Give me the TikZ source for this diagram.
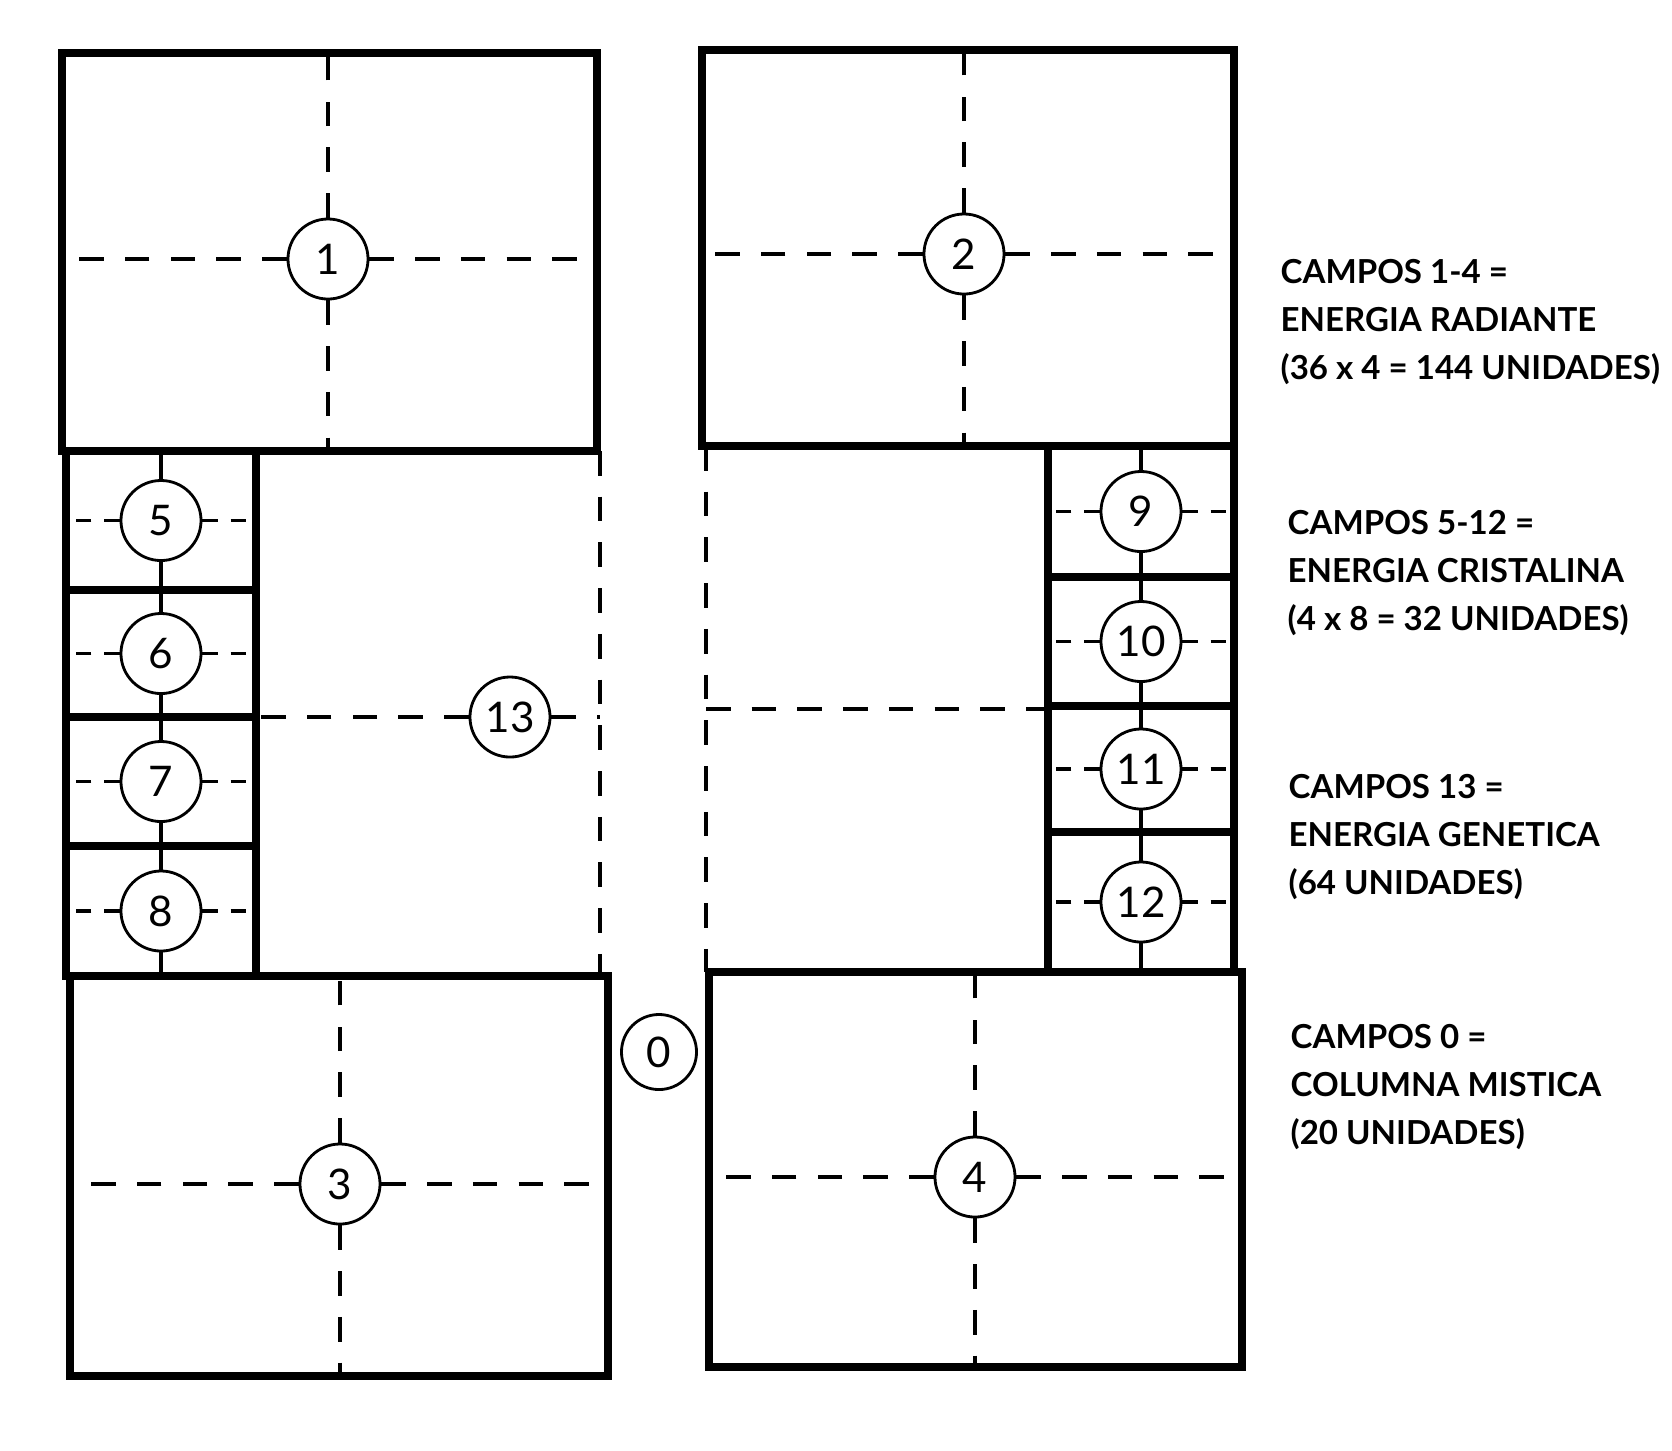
\documentclass[tikz,border=0pt]{standalone}
\usepackage{fontspec}
\setmainfont{Lato}
\usepackage{tikz}
\tikzset{
  wall/.style={draw=black, line width=2.4pt},
  axis/.style={draw=black, line width=0.9pt, dash pattern=on 7pt off 6pt},
  shortaxis/.style={axis, dash pattern=on 4.5pt off 3.5pt},
  field/.style={circle, draw=black, fill=white, line width=0.8pt, minimum size=0.8cm,
                inner sep=0pt, font=\fontsize{12}{12}\selectfont},
  legend/.style={anchor=west, align=left, inner sep=0pt, font=\fontsize{9.4}{13.6}\selectfont\bfseries},
}

\begin{document}
\begin{tikzpicture}[x=0.01cm, y=-0.01cm]
\useasboundingbox (0,0) rectangle (1672,1450);
% the four big fields
\coordinate (b1-nw) at (62,53);   \coordinate (b1-se) at (597,451);
\coordinate (b2-nw) at (702,50);  \coordinate (b2-se) at (1234,446);
\coordinate (b3-nw) at (70,976);  \coordinate (b3-se) at (608,1376);
\coordinate (b4-nw) at (709,972); \coordinate (b4-se) at (1242,1367);
\node[field] (n1) at (328,259) {1};
\node[field] (n2) at (964,254) {2};
\node[field] (n3) at (340,1184) {3};
\node[field] (n4) at (975,1177) {4};
\foreach \b in {1,...,4} {
  \draw[wall] (b\b-nw) rectangle (b\b-se);
  \draw[axis] (n\b.west) -- (n\b -| b\b-nw) (n\b.east) -- (n\b -| b\b-se)
              (n\b.north) -- (n\b |- b\b-nw) (n\b.south) -- (n\b |- b\b-se);
}
% small fields 5-8 and 9-12
\foreach \i/\xa/\xb/\ya/\yb in {5/66/256/451/590, 6/66/256/590/717, 7/66/256/717/846, 8/66/256/846/976,
    9/1048/1234/446/577, 10/1048/1234/577/706, 11/1048/1234/706/832, 12/1048/1234/832/972} {
  \coordinate (b\i-nw) at (\xa,\ya); \coordinate (b\i-se) at (\xb,\yb);
  \draw[wall] (b\i-nw) rectangle (b\i-se);
  \node[field] (n\i) at ({(\xa+\xb)/2},{(\ya+\yb)/2}) {\i};
  \draw[shortaxis] (n\i.west) -- (n\i -| b\i-nw) (n\i.east) -- (n\i -| b\i-se);
  \draw[axis] (n\i.north) -- (n\i |- b\i-nw) (n\i.south) -- (n\i |- b\i-se);
}
% field 13, left and right halves
\coordinate (b13-nw) at (256,451);   \coordinate (b13-se) at (600,976);
\coordinate (b13r-nw) at (706,446);  \coordinate (b13r-se) at (1048,972);
\coordinate (b13r-mid) at (706,709);
\node[field] (n13) at (510,717) {13};
\draw[axis] (b13-se |- b13-nw) -- (b13-se);
\draw[axis] (n13.west) -- (n13 -| b13-nw) (n13.east) -- (n13 -| b13-se);
\draw[axis] (b13r-nw) -- (b13r-nw |- b13r-se);
\draw[axis] (b13r-mid) -- (b13r-mid -| b13r-se);
% mystic column
\node[field, minimum size=0.75cm] (n0) at (659,1052) {0};
% legend
\node[legend] (t1) at (1280,322) {CAMPOS 1-4 =\\ENERGIA RADIANTE\\(36 x 4 = 144 UNIDADES)};
\node[legend] (t2) at (1287,573) {CAMPOS 5-12 =\\ENERGIA CRISTALINA\\(4 x 8 = 32 UNIDADES)};
\node[legend] (t3) at (1288,837) {CAMPOS 13 =\\ENERGIA GENETICA\\(64 UNIDADES)};
\node[legend] (t4) at (1290,1087) {CAMPOS 0 =\\COLUMNA MISTICA\\(20 UNIDADES)};
\end{tikzpicture}
\end{document}
